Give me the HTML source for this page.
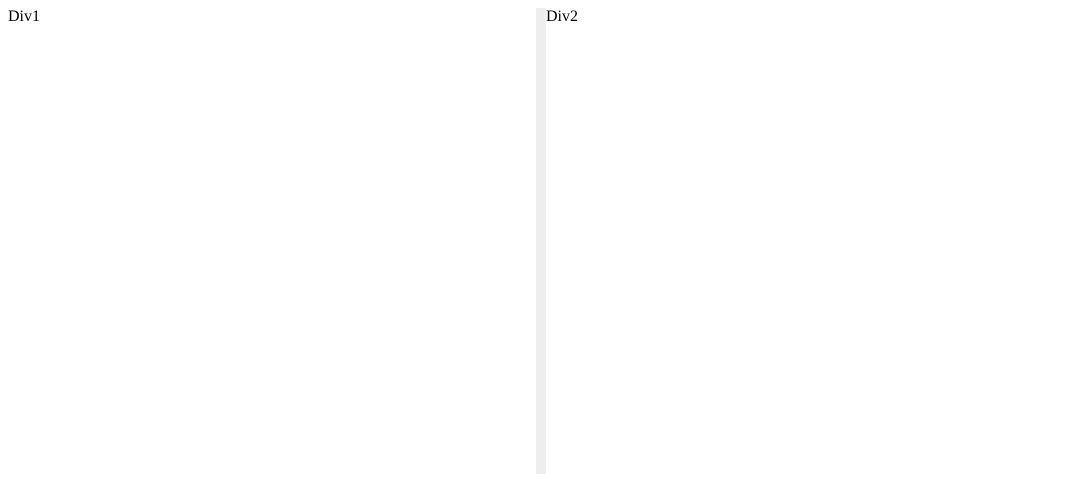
<!DOCTYPE html>
<html><head><meta charset="utf-8"><style>
html,body{margin:0;padding:0;background:#fff;}
body{margin:8px;width:1074px;height:466px;overflow:hidden;font-family:"Liberation Serif",serif;font-size:16px;color:#000;}
.wrap{display:flex;height:466px;}
.pane{height:100%;box-sizing:border-box;line-height:18px;}
#d1{width:528px;}
#g{width:10px;background:#eeeeee;height:100%;}
#d2{width:536px;}
</style></head><body>
<div class="wrap">
<div class="pane" id="d1">Div1</div>
<div id="g"></div>
<div class="pane" id="d2">Div2</div>
</div>
</body></html>
